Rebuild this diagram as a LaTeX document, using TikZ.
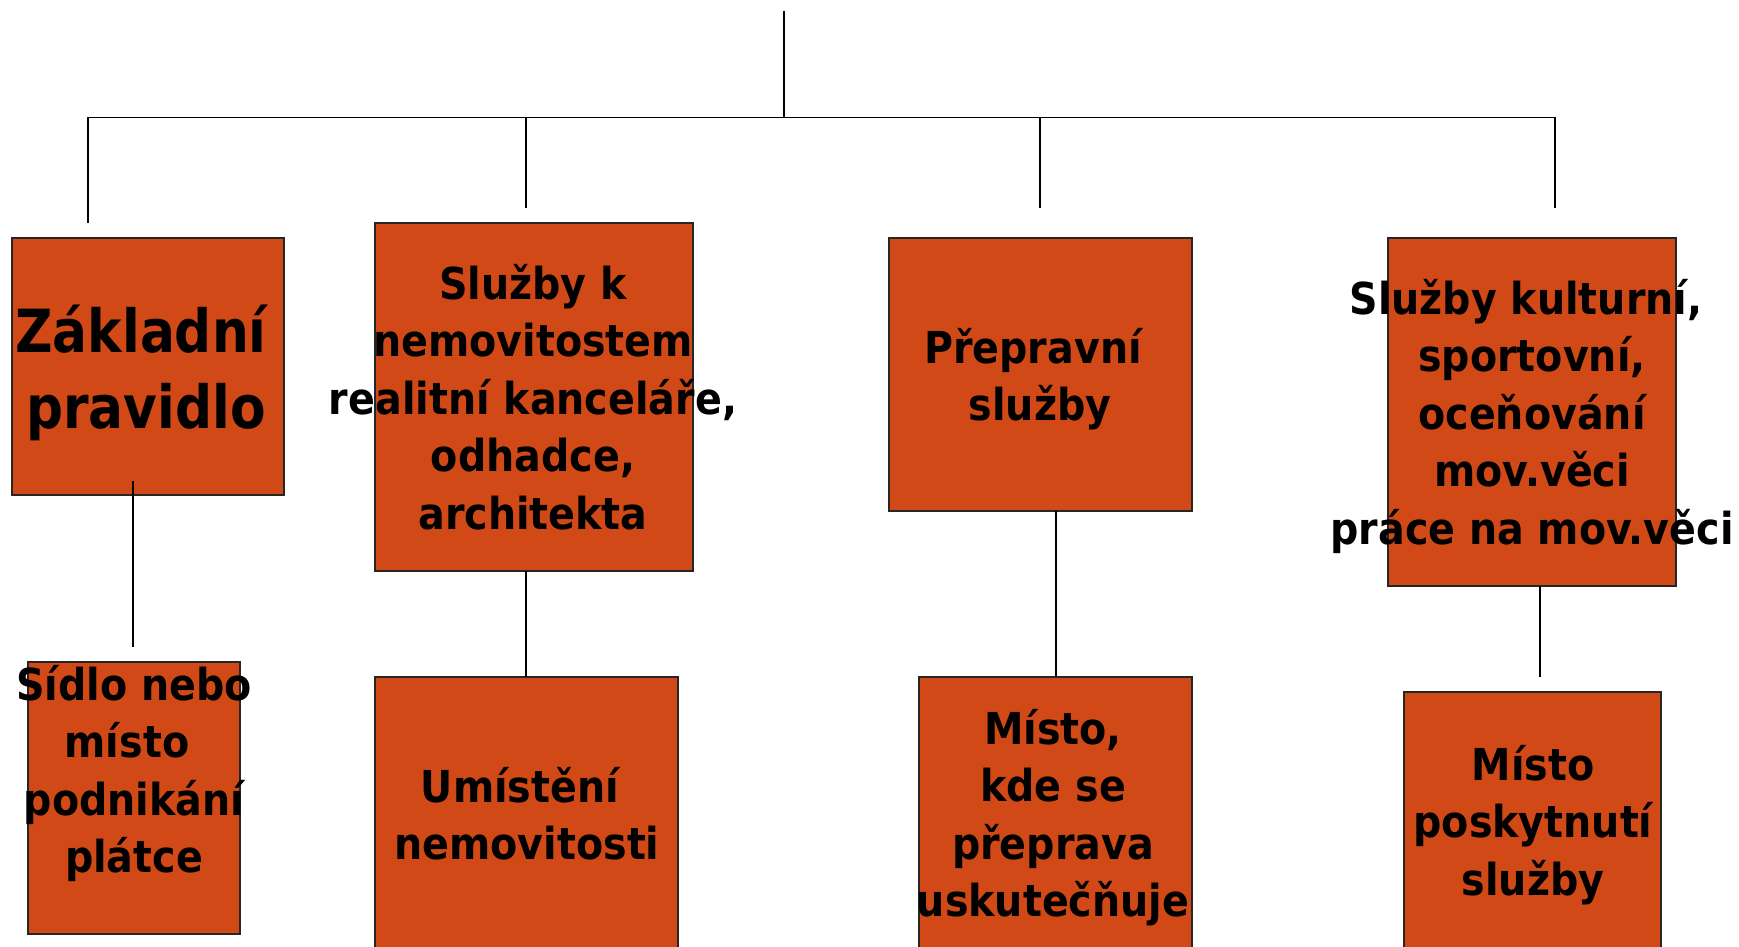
\documentclass[tikz,border=0pt]{standalone}
\usepackage{fontspec}
\newfontfamily\lblfont[FakeStretch=0.90]{DejaVu Sans}
\newfontfamily\bigfont[FakeStretch=0.87]{DejaVu Sans}
\definecolor{boxfill}{RGB}{210,73,24}
\begin{document}
\begin{tikzpicture}[x=0.5pt,y=-0.5pt,
  box/.style={draw=black!85,line width=0.8pt,fill=boxfill,anchor=north west,inner sep=0pt,outer sep=0pt},
  conn/.style={draw=black,line width=0.9pt},
  lbl/.style={anchor=base,inner sep=0pt,font=\lblfont\bfseries\fontsize{22pt}{28.75pt}\selectfont},
  biglbl/.style={anchor=base,inner sep=0pt,font=\bigfont\bfseries\fontsize{29.75pt}{38pt}\selectfont}]
\useasboundingbox (0,0) rectangle (1739,947);
\clip (0,0) rectangle (1739,947);
% boxes
\node[box,minimum width=136pt,minimum height=128.5pt] (b1) at (12,238) {};
\node[box,minimum width=159pt,minimum height=174pt] (b2) at (375,223) {};
\node[box,minimum width=151.5pt,minimum height=136.5pt] (b3) at (889,238) {};
\node[box,minimum width=144pt,minimum height=174pt] (b4) at (1388,238) {};
\node[box,minimum width=106pt,minimum height=136pt] (b5) at (28,662) {};
\node[box,minimum width=151.5pt,minimum height=160pt] (b6) at (375,677) {};
\node[box,minimum width=136.5pt,minimum height=160pt] (b7) at (919,677) {};
\node[box,minimum width=128.5pt,minimum height=160pt] (b8) at (1404,692) {};
% connector coordinates
\coordinate (top) at (784,11);
\coordinate (hub) at (784,117.5);
\coordinate (barL) at (87.6,117.5);
\coordinate (barR) at (1555,117.5);
\coordinate (d1) at (87.6,223);
\coordinate (d2t) at (526,117.5);
\coordinate (d2) at (526,208);
\coordinate (d3t) at (1040,117.5);
\coordinate (d3) at (1040,208);
\coordinate (d4) at (1555,208);
\coordinate (l1t) at (133,481);
\coordinate (l1b) at (133,647);
\coordinate (l2) at (526,0);
\coordinate (l3) at (1056,0);
\coordinate (l4b) at (1540,677);
% connectors
\draw[conn] (top) -- (hub);
\draw[conn] (barL) -- (barR);
\draw[conn] (barL) -- (d1);
\draw[conn] (d2t) -- (d2);
\draw[conn] (d3t) -- (d3);
\draw[conn] (barR) -- (d4);
\draw[conn] (l1t) -- (l1b);
\draw[conn] (b2.south -| l2) -- (b6.north -| l2);
\draw[conn] (b3.south -| l3) -- (b7.north -| l3);
\draw[conn] (b4.south -| l4b) -- (l4b);
% texts
\node[biglbl] (t1) at (146,352) {\begin{tabular}[t]{@{}c@{}}Základní\hspace*{5pt}\\pravidlo\end{tabular}};
\node[lbl] (t2) at (533,299) {\begin{tabular}[t]{@{}c@{}}Služby k\\nemovitostem\\realitní kanceláře,\\odhadce,\\architekta\end{tabular}};
\node[lbl] (t3) at (1040,363) {\begin{tabular}[t]{@{}c@{}}Přepravní\hspace*{7pt}\\služby\end{tabular}};
\node[lbl] (t4) at (1532,314) {\begin{tabular}[t]{@{}c@{}}Služby kulturní,\hspace*{6pt}\\sportovní,\\oceňování\\mov.věci\\práce na mov.věci\end{tabular}};
\node[lbl] (t5) at (134,700) {\begin{tabular}[t]{@{}c@{}}Sídlo nebo\\místo\hspace*{7pt}\\podnikání\\plátce\end{tabular}};
\node[lbl] (t6) at (527,802) {\begin{tabular}[t]{@{}c@{}}Umístění\hspace*{7pt}\\nemovitosti\end{tabular}};
\node[lbl] (t7) at (1053,744) {\begin{tabular}[t]{@{}c@{}}Místo,\\kde se\\přeprava\\uskutečňuje\end{tabular}};
\node[lbl] (t8) at (1533,780) {\begin{tabular}[t]{@{}c@{}}Místo\\poskytnutí\\služby\end{tabular}};
\end{tikzpicture}
\end{document}
